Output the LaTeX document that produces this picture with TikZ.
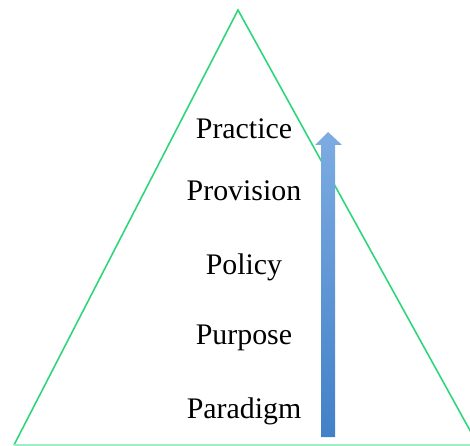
\documentclass[tikz,border=0pt]{standalone}
\usepackage{fontspec}
\setmainfont{Liberation Serif}
\usepackage{tikz}
\usetikzlibrary{positioning}

\definecolor{pyrgreen}{RGB}{46,214,122}
\definecolor{arrowtop}{RGB}{125,172,226}
\definecolor{arrowbot}{RGB}{66,128,200}

\begin{document}
\begin{tikzpicture}
[x=0.02cm,y=-0.02cm,
 level/.style={font=\fontsize{17}{20}\selectfont,inner sep=0pt}]
\useasboundingbox (0,0) rectangle (470,446);

\begin{scope}
\clip (0,0) rectangle (470,446);
\draw [pyrgreen,line width=0.9pt] (14,445) -- (238,10) -- (478,445);
\draw [pyrgreen!45,line width=0.8pt] (14,445) -- (470,445);
\end{scope}

\node[level] (practice) at (244,129) {Practice};
\node[level] (provision) at (244,191) {Provision};
\node[level] (policy) at (244,267) {Policy};
\node[level] (purpose) at (244,338) {Purpose};
\node[level] (paradigm) at (244,411) {Paradigm};

\shade [top color=arrowtop,bottom color=arrowbot]
  (321,437) -- (321,145) -- (315,145) -- (328,132) -- (342,145)
  -- (335,145) -- (335,437) -- cycle;
\end{tikzpicture}
\end{document}
